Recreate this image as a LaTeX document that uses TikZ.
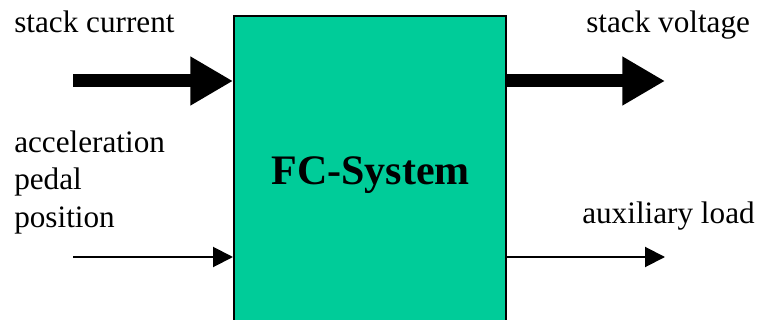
\documentclass[tikz,border=0pt]{standalone}
\usepackage{fontspec}
\setmainfont{Liberation Serif}
\usetikzlibrary{arrows.meta}
\definecolor{fcgreen}{RGB}{0,204,153}
\begin{document}
\begin{tikzpicture}[x=0.75pt,y=-0.75pt,
  lbl/.style={anchor=base west,inner sep=0pt,font=\fontsize{23.4}{28}\selectfont},
  thickflow/.style={line width=9.75pt,-{Triangle[length=32pt,width=34.5pt]}},
  thinflow/.style={line width=1.5pt,-{Triangle[length=15pt,width=15pt]}}]
  \useasboundingbox (0,0) rectangle (762,320);
  % system block (runs past the lower edge)
  \node (sys) [draw=black,line width=1.5pt,fill=fcgreen,minimum width=204pt,minimum height=260pt,anchor=north west,inner sep=0pt] at (233,15.5) {};
  \node (title) [anchor=base,inner sep=0pt,font=\bfseries\fontsize{31.5}{36}\selectfont] at (370.5,185) {FC-System};
  % free ends of the connectors
  \coordinate (inA) at (73,81);
  \coordinate (inB) at (73,257);
  \coordinate (outA) at (665,81);
  \coordinate (outB) at (665,257);
  \coordinate (sysA) at (233,81);
  \coordinate (sysB) at (233,257);
  \coordinate (sysC) at (505,81);
  \coordinate (sysD) at (505,257);
  \draw[thickflow] (inA) -- (sysA);
  \draw[thickflow] (sysC) -- (outA);
  \draw[thinflow] (inB) -- (sysB);
  \draw[thinflow] (sysD) -- (outB);
  % labels
  \node (l1) [lbl] at (14,33) {stack current};
  \node (l2) [lbl] at (586,33) {stack voltage};
  \node (l3) [lbl] at (14,153) {acceleration};
  \node (l4) [lbl] at (14,190) {pedal};
  \node (l5) [lbl] at (14,227) {position};
  \node (l6) [lbl] at (582,223) {auxiliary load};
\end{tikzpicture}
\end{document}
